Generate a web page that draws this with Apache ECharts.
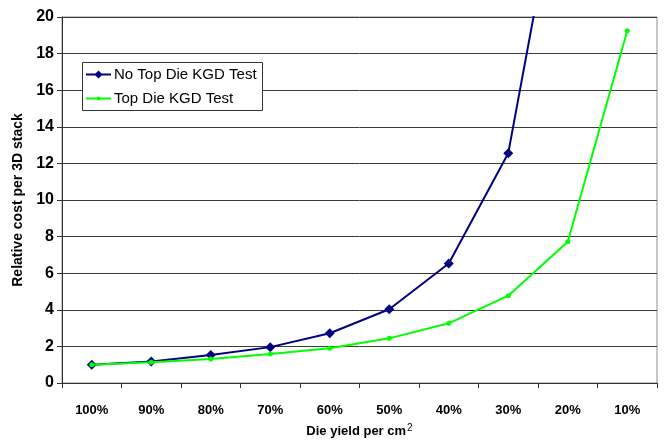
<!DOCTYPE html>
<html>
<head>
<meta charset="utf-8">
<script src="https://cdn.jsdelivr.net/npm/echarts@6/dist/echarts.min.js"></script>
<style>
  html, body { margin: 0; padding: 0; background: #fff; }
  #chart { width: 665px; height: 443px; }
</style>
</head>
<body>
<div id="chart"></div>
<script>
// Die yield categories along the x axis
var yieldLabels = ['100%', '90%', '80%', '70%', '60%', '50%', '40%', '30%', '20%', '10%'];

// Relative cost per 3D stack
var noTopDieKgd = [1.0, 1.17, 1.53, 1.96, 2.72, 4.03, 6.53, 12.56, 30.1, null];
var topDieKgd   = [1.0, 1.14, 1.31, 1.58, 1.9, 2.44, 3.26, 4.77, 7.72, 19.25];

var seriesNames = ['No Top Die KGD Test', 'Top Die KGD Test'];

var yTicks = { min: 0, max: 20, step: 2 };

var chart = echarts.init(document.getElementById('chart'), null, { renderer: 'canvas' });
var fontFam = '"Liberation Sans", Arial, sans-serif';

function legendFor(name, top, iconHeight) {
  return {
    left: 85, top: top,
    orient: 'vertical',
    padding: 0,
    itemWidth: 25,
    itemHeight: iconHeight,
    textStyle: { fontFamily: fontFam, fontSize: 15, color: '#000', padding: [0, 0, 0, -2] },
    data: [name],
    z: 10
  };
}

chart.setOption({
  animation: false,
  backgroundColor: '#ffffff',
  grid: {
    left: 62, right: 8, top: 17, bottom: 60,
    outerBoundsMode: 'none',
    containLabel: false,
    show: true, borderColor: '#8c8c8c', borderWidth: 1, backgroundColor: 'transparent'
  },
  // Legend frame
  graphic: [{
    type: 'rect',
    left: 82, top: 62,
    shape: { width: 180, height: 48 },
    style: { fill: '#ffffff', stroke: '#333', lineWidth: 1 },
    z: 5
  }],
  legend: [
    legendFor(seriesNames[0], 67, 10),
    legendFor(seriesNames[1], 91, 5)
  ],
  xAxis: {
    type: 'category',
    data: yieldLabels,
    boundaryGap: true,
    name: '{t|Die yield per cm}{s|2}',
    nameLocation: 'middle',
    nameGap: 40,
    nameTextStyle: {
      rich: {
        t: { fontFamily: fontFam, fontSize: 13, fontWeight: 'bold', color: '#000' },
        s: { fontFamily: fontFam, fontSize: 10, color: '#000', verticalAlign: 'top', padding: [0, 0, 6, 1] }
      }
    },
    axisLine: { lineStyle: { color: '#333', width: 1 } },
    axisTick: { show: true, alignWithLabel: false, length: 5, lineStyle: { color: '#333' } },
    axisLabel: { fontFamily: fontFam, fontSize: 13, fontWeight: 'bold', color: '#000', margin: 21 },
    splitLine: { show: false }
  },
  yAxis: {
    type: 'value',
    min: yTicks.min, max: yTicks.max, interval: yTicks.step,
    name: 'Relative cost per 3D stack',
    nameLocation: 'middle',
    nameGap: 37,
    nameRotate: 90,
    nameTextStyle: { fontFamily: fontFam, fontSize: 14, fontWeight: 'bold', color: '#000' },
    axisLine: { show: true, lineStyle: { color: '#333', width: 1 } },
    axisTick: { show: true, length: 5, lineStyle: { color: '#333' } },
    axisLabel: { fontFamily: fontFam, fontSize: 16, fontWeight: 'bold', color: '#000', margin: 8 },
    splitLine: { show: true, lineStyle: { color: '#3a3a3a', width: 1 } }
  },
  series: [
    {
      name: seriesNames[0],
      type: 'line',
      data: noTopDieKgd,
      symbol: 'diamond',
      symbolSize: 10,
      color: '#000080',
      lineStyle: { color: '#000080', width: 2 },
      itemStyle: { color: '#000080' },
      clip: true,
      z: 2
    },
    {
      name: seriesNames[1],
      type: 'line',
      data: topDieKgd,
      symbol: 'circle',
      symbolSize: 5,
      color: '#00ff00',
      lineStyle: { color: '#00ff00', width: 2 },
      itemStyle: { color: '#00ff00' },
      clip: true,
      z: 3
    }
  ]
});
</script>
</body>
</html>
